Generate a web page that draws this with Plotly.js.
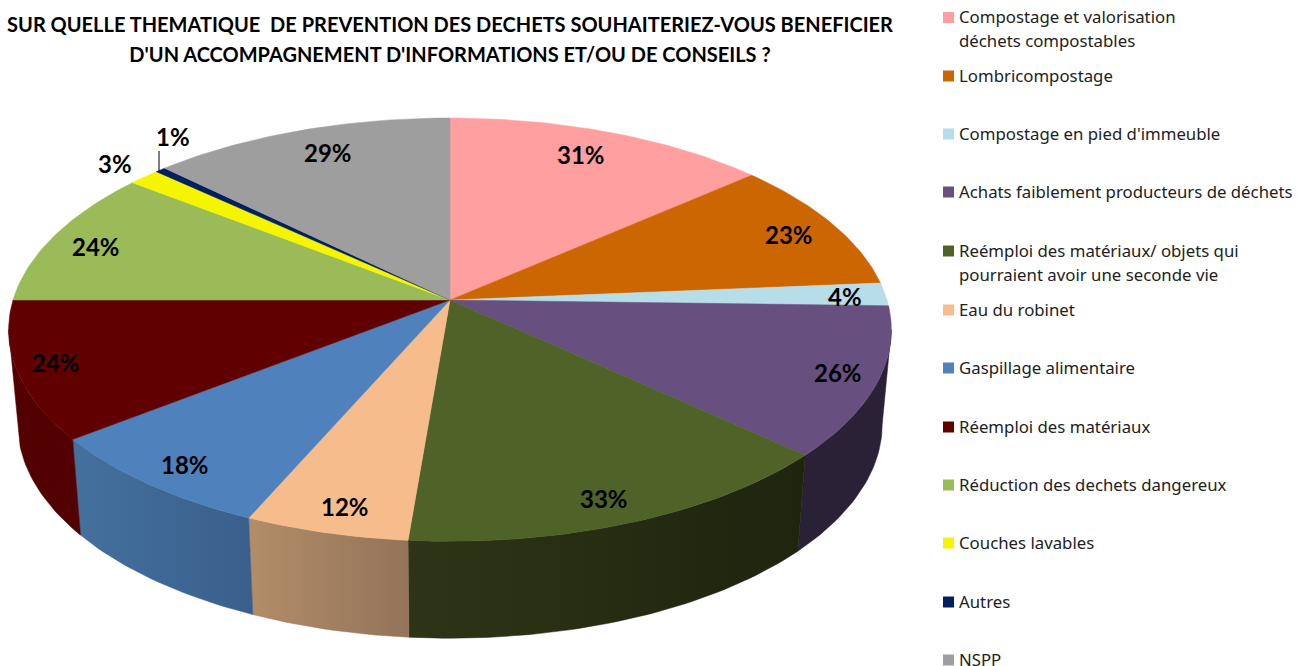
<!DOCTYPE html>
<html><head><meta charset="utf-8">
<script src="https://cdn.plot.ly/plotly-3.0.1.min.js"></script>
<style>html,body{margin:0;padding:0;background:#fff}#c{width:1297px;height:666px}</style></head>
<body><div id="c"></div>
<script>
// ---- data ----
const categories = ["Compostage et valorisation|déchets compostables","Lombricompostage","Compostage en pied d'immeuble","Achats faiblement producteurs de déchets","Reémploi des matériaux/ objets qui|pourraient avoir une seconde vie","Eau du robinet","Gaspillage alimentaire","Réemploi des matériaux","Réduction des dechets dangereux","Couches lavables","Autres","NSPP"];
const values = [31,23,4,26,33,12,18,24,24,3,1,29];
const colors = ["#FF9F9F","#CC6600","#B7DDE8","#674F80","#4F6228","#F7BC8C","#4F81BD","#600000","#9BBB59","#F5F500","#002060","#9E9E9E"];
const wallLeft  = [null,null,null,"#2B2136","#2E3516","#B38D68","#44709F","#530000",null,null,null,null];
const wallRight = [null,null,null,"#2B2136","#1E240E","#93735A","#3A5F8C","#530000",null,null,null,null];
const titleLines = ["SUR QUELLE THEMATIQUE  DE PREVENTION DES DECHETS SOUHAITERIEZ-VOUS BENEFICIER","D'UN ACCOMPAGNEMENT D'INFORMATIONS ET/OU DE CONSEILS ?"];

// ---- layout constants (pixel scale of the hidden axes) ----
const cx=450, topY=300, botY=394, rxTop=437, ryTop=207.5, rxBot=428, ryBot=210, k=0.14;
const labelPos=[[581,154],[789,234],[845,296],[838,372],[604,498],[345,506],[185,464],[56,362],[96,246],[115,163],[173,136],[328,152]];
const legendY=[17.5,76,134,192,251,310,368,427,485,543,602,660];
const lineGap=24;
const silhouette=[98,262];
const FS="'Noto Sans',sans-serif", FT="'Lato','Liberation Sans',sans-serif";

const rad=d=>d*Math.PI/180;
const pTop=a=>{const w=1+k*Math.cos(rad(a));return [cx+rxTop*Math.sin(rad(a))/w, topY-ryTop*Math.cos(rad(a))/w];};
const pBot=a=>{const w=1+k*Math.cos(rad(a));return [cx+rxBot*Math.sin(rad(a))/w, botY-ryBot*Math.cos(rad(a))/w];};
const arc=(f,a,b)=>{const n=Math.max(2,Math.ceil(Math.abs(b-a)));const o=[];for(let i=0;i<=n;i++)o.push(f(a+(b-a)*i/n));return o;};

const total=values.reduce((s,v)=>s+v,0);
let run=0; const bounds=values.map(v=>{const a=run/total*360;run+=v;return [a,run/total*360];});

const traces=[];
// side walls
bounds.forEach(([a,b],i)=>{
  const s=Math.max(a,silhouette[0]), e=Math.min(b,silhouette[1]);
  if(e<=s||!wallLeft[i])return;
  const pts=arc(pTop,s,e).concat(arc(pBot,e,s));pts.push(pts[0]);
  traces.push({type:'scatter',mode:'lines',x:pts.map(p=>p[0]),y:pts.map(p=>p[1]),fill:'toself',
    fillgradient:{type:'horizontal',colorscale:[[0,wallLeft[i]],[1,wallRight[i]]]},
    line:{width:0.5,color:wallRight[i]},hoverinfo:'skip',showlegend:false});
});
// top faces
bounds.forEach(([a,b],i)=>{
  const pts=[[cx,topY]].concat(arc(pTop,a,b));pts.push([cx,topY]);
  traces.push({type:'scatter',mode:'lines',x:pts.map(p=>p[0]),y:pts.map(p=>p[1]),fill:'toself',fillcolor:colors[i],
    line:{width:0.5,color:colors[i]},name:categories[i].replace('|',' '),text:values[i]+'%',hoverinfo:'name+text',showlegend:false});
});
// leader line of the 1% label
traces.push({type:'scatter',mode:'lines',x:[159,159],y:[151,171],line:{width:1,color:'#000'},hoverinfo:'skip',showlegend:false});
// legend keys
traces.push({type:'scatter',mode:'markers',x:categories.map(()=>948.5),y:legendY,
  marker:{symbol:'square',size:11,color:colors,line:{width:0}},hoverinfo:'skip',showlegend:false});

const annotations=[];
values.forEach((v,i)=>annotations.push({x:labelPos[i][0],y:labelPos[i][1],xref:'x',yref:'y',text:v+'%',showarrow:false,
  xanchor:'center',yanchor:'middle',font:{family:FT,size:24,color:'#000',weight:700}}));
categories.forEach((c,i)=>c.split('|').forEach((t,j)=>annotations.push({x:957,y:legendY[i]-1+j*lineGap,xref:'x',yref:'y',text:t,showarrow:false,
  xanchor:'left',yanchor:'middle',align:'left',font:{family:FS,size:16.8,color:'#222'}})));

Plotly.newPlot('c',traces,{
  width:1297,height:666,margin:{l:0,r:0,t:0,b:0},paper_bgcolor:'#fff',plot_bgcolor:'#fff',showlegend:false,
  title:{text:titleLines.map(t=>'<span style="font-size:20px">'+t+'</span>').join('<br>'),x:450/1297,xanchor:'center',xref:'paper',y:0.961,yanchor:'top',yref:'paper',
    pad:{t:6},font:{family:FT,size:23,color:'#000',weight:700}},
  xaxis:{range:[0,1297],visible:false,fixedrange:true},
  yaxis:{range:[666,0],visible:false,fixedrange:true},
  annotations
},{displayModeBar:false});
</script></body></html>
